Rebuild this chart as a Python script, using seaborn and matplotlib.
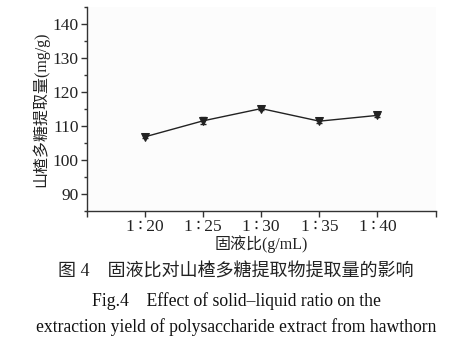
import matplotlib
matplotlib.use("Agg")
import matplotlib.pyplot as plt
import seaborn as sns
import pandas as pd
from matplotlib.ticker import MultipleLocator

ratios = [20, 25, 30, 35, 40]
tick_labels = ["1\u2009∶\u200920", "1\u2009∶\u200925", "1\u2009∶\u200930", "1\u2009∶\u200935", "1\u2009∶\u200940"]
yields = [106.8, 111.5, 115.1, 111.4, 113.1]
errors = [0.5, 1.0, 0.5, 0.4, 0.5]

sns.set_theme(style="ticks")
plt.rcParams['font.family'] = ['Liberation Serif', 'Noto Sans CJK SC', 'DejaVu Sans']

df = pd.DataFrame({"ratio": ratios, "yield": yields})

fig = plt.figure(figsize=(4.75, 3.48), dpi=100)
ax = fig.add_axes([0.183, 0.394, 0.734, 0.586])
ax.set_facecolor('#fcfcfc')

sns.lineplot(data=df, x="ratio", y="yield", ax=ax, color='#222222', linewidth=1.0,
             marker='v', markersize=6, markeredgecolor='#222222', markerfacecolor='#222222')
ax.errorbar(ratios, yields, yerr=errors, fmt='none', ecolor='#222222', elinewidth=1.0,
            capsize=2.5, capthick=1.0)

ax.set_xlim(15, 45)
ax.set_ylim(85, 145)
ax.set_xticks([15] + ratios + [45])
ax.set_xticklabels([""] + tick_labels + [""], family=['Liberation Serif', 'DejaVu Sans'])
ax.yaxis.set_major_locator(MultipleLocator(10))
ax.yaxis.set_minor_locator(MultipleLocator(5))
ax.set_yticks([90, 100, 110, 120, 130, 140])

for s in ['top', 'right']:
    ax.spines[s].set_visible(False)
for s in ['left', 'bottom']:
    ax.spines[s].set_color('#333333')
    ax.spines[s].set_linewidth(1.0)

ax.tick_params(axis='both', which='major', direction='out', length=4, width=1.0,
               color='#333333', labelsize=12.5, labelcolor='#222222', pad=2)
ax.tick_params(axis='y', which='minor', direction='out', length=2.5, width=1.0, color='#333333')

ax.set_xlabel("固液比(g/mL)", fontsize=11.5, color='#222222', labelpad=0)
ax.set_ylabel("山楂多糖提取量(mg/g)", fontsize=11.5, color='#222222', labelpad=2)

fig.text(0.497, 1 - 272 / 348, "图 4　固液比对山楂多糖提取物提取量的影响", ha='center', va='center',
         fontsize=13, color='#222222')
fig.text(0.497, 1 - 301 / 348, "Fig.4　Effect of solid–liquid ratio on the", ha='center', va='center',
         fontsize=12.7, color='#111111')
fig.text(0.497, 1 - 327 / 348, "extraction yield of polysaccharide extract from hawthorn", ha='center',
         va='center', fontsize=12.7, color='#111111')

fig.savefig("out.png", dpi=100)
